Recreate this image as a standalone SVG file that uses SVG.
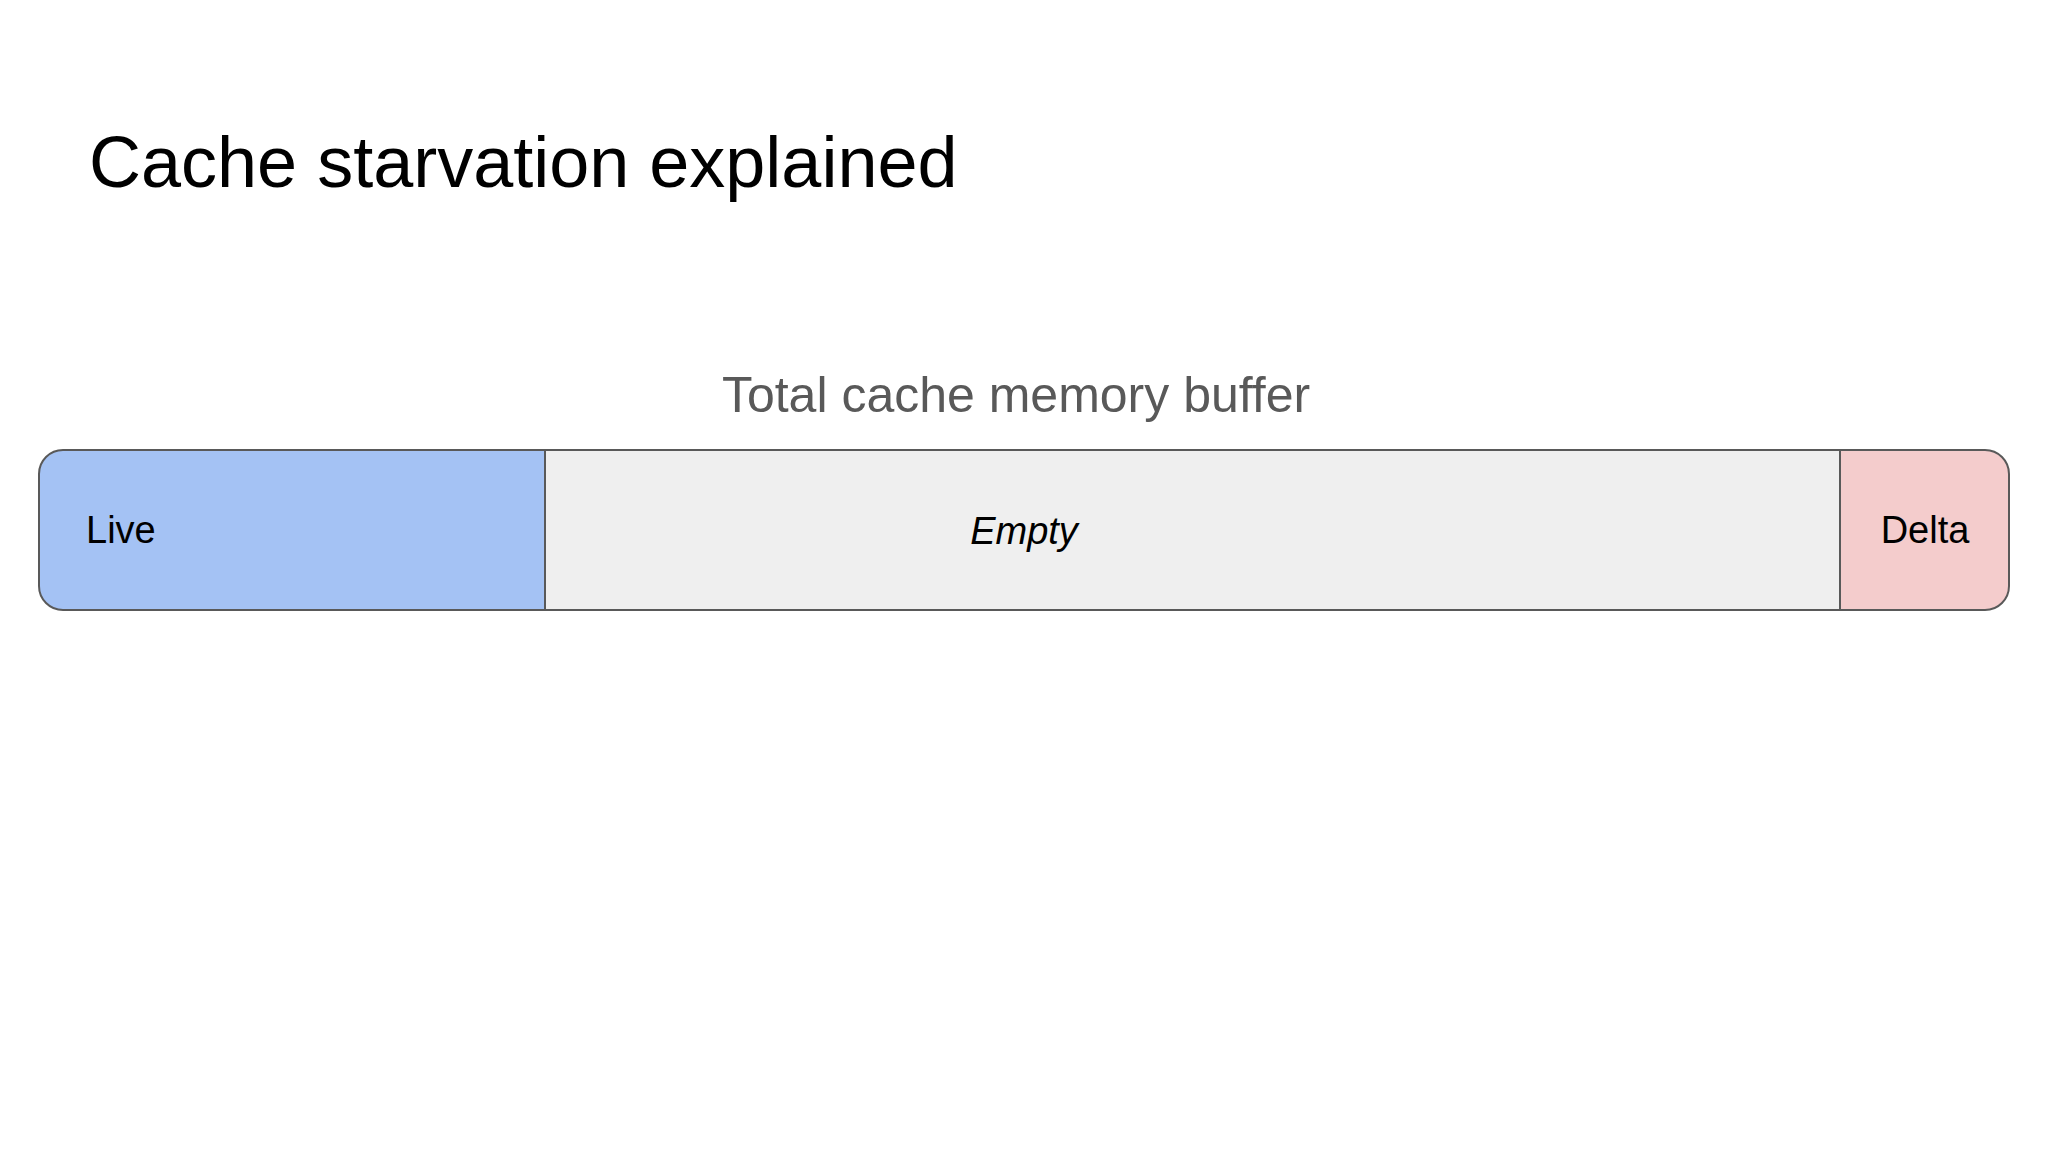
<svg xmlns="http://www.w3.org/2000/svg" width="2048" height="1152" viewBox="0 0 2048 1152">
<style>
text{font-family:"Liberation Sans",Arial,sans-serif}
.lbl{font-size:38px;fill:#000}
.seg{stroke:#595959;stroke-width:2}
</style>
<rect width="2048" height="1152" fill="#fff"/>
<text x="89" y="187" font-size="72">Cache starvation explained</text>
<text x="1016" y="412" font-size="50" fill="#595959" text-anchor="middle">Total cache memory buffer</text>
<defs><clipPath id="c"><rect x="39" y="450" width="1970" height="160" rx="24"/></clipPath></defs>
<g clip-path="url(#c)">
<g id="live"><rect class="seg" x="39" y="450" width="506" height="160" fill="#a4c2f4"/></g>
<g id="empty"><rect class="seg" x="545" y="450" width="1295" height="160" fill="#efefef"/></g>
<g id="delta"><rect class="seg" x="1840" y="450" width="169" height="160" fill="#f4cccc"/></g>
</g>
<rect x="39" y="450" width="1970" height="160" rx="24" fill="none" stroke="#595959" stroke-width="2"/>
<text class="lbl" x="86" y="543">Live</text>
<text class="lbl" x="1024" y="544" text-anchor="middle" font-style="italic">Empty</text>
<text class="lbl" x="1925" y="543" text-anchor="middle">Delta</text>
<g id="connectors"/>
</svg>
